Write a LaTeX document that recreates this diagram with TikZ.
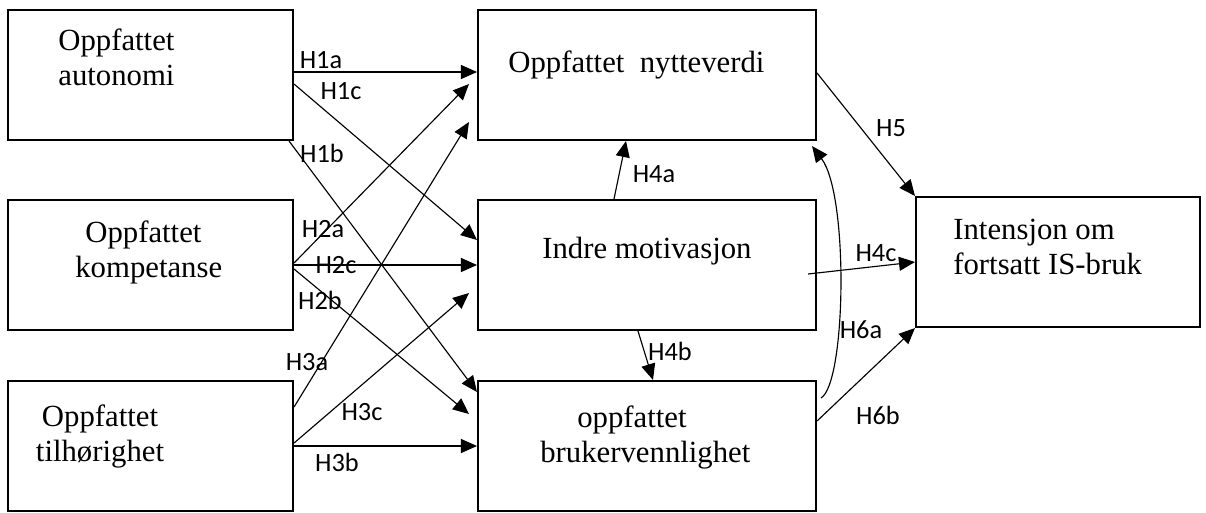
\documentclass[tikz,border=0pt]{standalone}
\usepackage{fontspec}
\setmainfont{Liberation Serif}
\newfontfamily\hypfont{Carlito}
\usetikzlibrary{arrows.meta,calc}

\tikzset{
  construct/.style={draw, line width=1.2pt, inner sep=0pt, minimum height=2.6cm},
  constructtext/.style={font=\fontsize{17.5}{19.5}\selectfont, inner sep=0pt},
  hyp/.style={line width=0.65pt, -{Triangle[length=3.2mm,width=2.8mm]}},
  hyplabel/.style={font=\hypfont\fontsize{15}{15}\selectfont, inner sep=0pt},
}

\begin{document}
\begin{tikzpicture}[x=0.02cm, y=-0.02cm]
    \useasboundingbox (0,0) rectangle (1206,512);

    % self-determination constructs (text nodes sit on the baseline of their last line)
    \node[construct, minimum width=5.7cm] (auto) at (150.5,75) {};
    \node[construct, minimum width=5.7cm] (komp) at (150.5,265) {};
    \node[construct, minimum width=5.7cm] (tilh) at (150.5,446) {};
    \node[constructtext, align=left, anchor=base west] (autotxt) at (58,85) {Oppfattet\\autonomi};
    \node[constructtext, align=left, anchor=base west] (komptxt) at (75,277) {\hspace*{0.2cm}Oppfattet\\kompetanse};
    \node[constructtext, align=center, anchor=base] (tilhtxt) at (100,461) {Oppfattet\\tilhørighet};

    % mediating constructs
    \node[construct, minimum width=6.76cm] (nytte) at (647,75) {};
    \node[construct, minimum width=6.76cm] (indre) at (647,265) {};
    \node[construct, minimum width=6.76cm] (bruk) at (647,446) {};
    \node[constructtext, anchor=base west] (nyttetxt) at (508,72) {Oppfattet\ \ nytteverdi};
    \node[constructtext, anchor=base west] (indretxt) at (542,258) {Indre motivasjon};
    \node[constructtext, align=left, anchor=base west] (bruktxt) at (540,462) {\hspace*{0.74cm}oppfattet\\brukervennlighet};

    % outcome
    \node[construct, minimum width=5.68cm] (intens) at (1058,262) {};
    \node[constructtext, align=left, anchor=base west] (intenstxt) at (953,274) {Intensjon om\\fortsatt IS-bruk};

    % H1
    \draw[hyp] ($(auto.east)+(0,-3)$) -- ($(nytte.west)+(0,-3)$);
    \draw[hyp] ($(auto.east)+(0,9)$) -- ($(indre.west)+(0,-25)$);
    \draw[hyp] ($(auto.south east)+(-5,0)$) -- ($(bruk.west)+(0,-54)$);
    % H2
    \draw[hyp] ($(komp.east)+(0,-2)$) -- ($(nytte.west)+(-8,9)$);
    \draw[hyp] (komp.east) -- (indre.west);
    \draw[hyp] ($(komp.east)+(0,4)$) -- ($(bruk.west)+(-8,-32)$);
    % H3
    \draw[hyp] ($(tilh.east)+(0,-39)$) -- ($(nytte.west)+(-8,47)$);
    \draw[hyp] ($(tilh.east)+(0,-3)$) -- ($(indre.west)+(-8,28)$);
    \draw[hyp] (tilh.east) -- (bruk.west);
    % H4 - H6
    \draw[hyp] ($(indre.north)+(-33,0)$) -- ($(nytte.south)+(-21,0)$);
    \draw[hyp] ($(indre.south)+(-9,0)$) -- ($(bruk.north)+(6,0)$);
    \draw[hyp] ($(nytte.east)+(0,-2)$) -- (intens.north west);
    \draw[hyp] ($(indre.east)+(-9,9)$) -- (intens.west);
    \draw[hyp] ($(bruk.east)+(4,-48)$) .. controls +(25,-15) and +(37,49) .. ($(nytte.south east)+(-5,5)$);
    \draw[hyp] ($(bruk.east)+(0,-25)$) -- (intens.south west);

    % hypothesis labels
    \node[hyplabel] (h1a) at (321,60) {H1a};
    \node[hyplabel] (h1c) at (341,91) {H1c};
    \node[hyplabel] (h1b) at (322,153) {H1b};
    \node[hyplabel] (h2a) at (323,229) {H2a};
    \node[hyplabel] (h2c) at (336,265) {H2c};
    \node[hyplabel] (h2b) at (320,300) {H2b};
    \node[hyplabel] (h3a) at (307,362) {H3a};
    \node[hyplabel] (h3c) at (362,412) {H3c};
    \node[hyplabel] (h3b) at (337,462) {H3b};
    \node[hyplabel] (h4a) at (654,174) {H4a};
    \node[hyplabel] (h4b) at (670,351) {H4b};
    \node[hyplabel] (h4c) at (876,253) {H4c};
    \node[hyplabel] (h5) at (891,128) {H5};
    \node[hyplabel] (h6a) at (861,330) {H6a};
    \node[hyplabel] (h6b) at (878,415) {H6b};
\end{tikzpicture}
\end{document}
